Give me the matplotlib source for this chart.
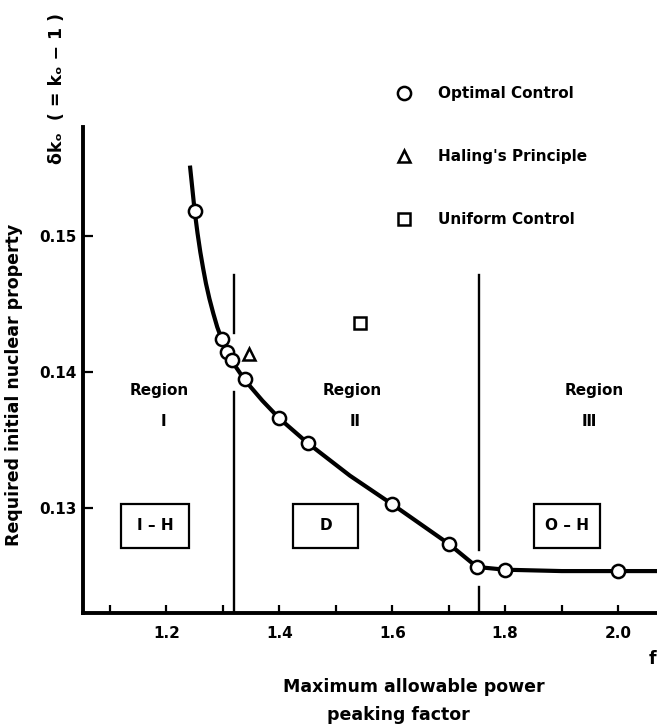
import numpy as np
import matplotlib
matplotlib.use("Agg")
import matplotlib.pyplot as plt
from matplotlib.patches import Rectangle

plt.rcParams['font.family'] = ['DejaVu Sans']
plt.rcParams['font.weight'] = 'bold'

# optimal control results
optimal_f = [1.25, 1.298, 1.308, 1.316, 1.339, 1.40, 1.45, 1.60, 1.70, 1.75, 1.80, 2.00]
optimal_dk = [0.1518, 0.1424, 0.1415, 0.1409, 0.1395, 0.1366, 0.1348, 0.1303, 0.1274, 0.1257, 0.1255, 0.1254]
# Haling's principle and uniform control
haling_f = [1.347]
haling_dk = [0.1413]
uniform_f = [1.543]
uniform_dk = [0.1436]
# smooth curve through the optimal results
curve_f = [1.242, 1.250, 1.255, 1.260, 1.265, 1.270, 1.276, 1.283, 1.290, 1.298, 1.308, 1.316,
           1.339, 1.370, 1.400, 1.450, 1.525, 1.600, 1.700, 1.750, 1.800, 1.900, 2.000, 2.070]
curve_dk = [0.1550, 0.1518, 0.1502, 0.1488, 0.1476, 0.1465, 0.1454, 0.1443, 0.1433, 0.1424, 0.1414, 0.1408,
            0.1394, 0.1379, 0.1366, 0.1348, 0.1324, 0.1303, 0.1274, 0.1257, 0.1255, 0.1254, 0.1254, 0.1254]
# region boundaries
bound1_f = 1.32
bound2_f = 1.753

xticks = [1.1, 1.2, 1.3, 1.4, 1.5, 1.6, 1.7, 1.8, 1.9, 2.0]
xticklabels = ['', '1.2', '', '1.4', '', '1.6', '', '1.8', '', '2.0']
yticks = [0.13, 0.14, 0.15]
yticklabels = ['0.13', '0.14', '0.15']

fig = plt.figure(figsize=(6.57, 7.26), dpi=100)
ax = fig.add_axes([0.1268, 0.1552, 0.8732, 0.6702])
ax.set_xlim(1.0527, 2.069)
ax.set_ylim(0.1223, 0.1580)

for s in ['top', 'right']:
    ax.spines[s].set_visible(False)
for s in ['left', 'bottom']:
    ax.spines[s].set_linewidth(2.8)

ax.plot(curve_f, curve_dk, color='black', lw=3.0, zorder=2)
ax.plot(optimal_f, optimal_dk, 'o', ms=9.5, mfc='white', mec='black', mew=1.8, zorder=3,
        label='Optimal Control')
ax.plot(haling_f, haling_dk, '^', ms=9, mfc='white', mec='black', mew=1.8, zorder=3,
        label="Haling's Principle")
ax.plot(uniform_f, uniform_dk, 's', ms=8.5, mfc='white', mec='black', mew=1.8, zorder=3,
        label='Uniform Control')

# boundary lines, broken where the curve crosses
ax.plot([bound1_f, bound1_f], [0.1223, 0.13855], color='black', lw=1.7)
ax.plot([bound1_f, bound1_f], [0.14284, 0.1471], color='black', lw=1.7)
ax.plot([bound2_f, bound2_f], [0.12694, 0.1471], color='black', lw=1.7)
ax.plot([bound2_f, bound2_f], [0.1223, 0.12426], color='black', lw=1.7)

ax.set_xticks(xticks)
ax.set_xticklabels(xticklabels)
ax.set_yticks(yticks)
ax.set_yticklabels(yticklabels)
ax.tick_params(axis='x', direction='in', length=6, width=1.6, pad=9, labelsize=11)
ax.tick_params(axis='y', direction='in', length=7, width=1.6, pad=5, labelsize=11)

# region labels
for fx, nx, num in [(1.1865, 1.1945, 'Ⅰ'), (1.530, 1.534, 'Ⅱ'), (1.957, 1.949, 'Ⅲ')]:
    ax.text(fx, 0.13868, 'Region', ha='center', va='center', fontsize=11)
    ax.text(nx, 0.13635, num, ha='center', va='center', fontsize=11)

# control mode boxes
for cx, w, lab in [(1.1794, 0.1205, 'Ⅰ – H'), (1.4824, 0.1152, 'D'), (1.9097, 0.117, 'O – H')]:
    ax.add_patch(Rectangle((cx - w / 2, 0.12872 - 0.00163), w, 0.00326, fill=False,
                           ec='black', lw=1.6))
    ax.text(cx, 0.12872, lab, ha='center', va='center', fontsize=11)

ax.legend(loc='upper left', bbox_to_anchor=(396.5 / 657, 1 - 86 / 726),
          bbox_transform=fig.transFigure, frameon=False, fontsize=11,
          handlelength=1.0, handletextpad=1.7, labelspacing=3.15,
          borderpad=0, borderaxespad=0, numpoints=1)

fig.text(414 / 657, 1 - 686.7 / 726, 'Maximum allowable power', ha='center', va='center',
         fontsize=12.5)
fig.text(398 / 657, 1 - 715 / 726, 'peaking factor', ha='center', va='center', fontsize=12.5)
fig.text(652 / 657, 1 - 659 / 726, 'f', ha='center', va='center', fontsize=12.5)
fig.text(14 / 657, 1 - 385 / 726, 'Required initial nuclear property', rotation=90,
         ha='center', va='center', fontsize=12.5)
fig.text(57 / 657, 1 - 89 / 726, 'δkₒ  ( = kₒ − 1 )', rotation=90,
         ha='center', va='center', fontsize=12.5)

fig.savefig('out.png', dpi=100)
